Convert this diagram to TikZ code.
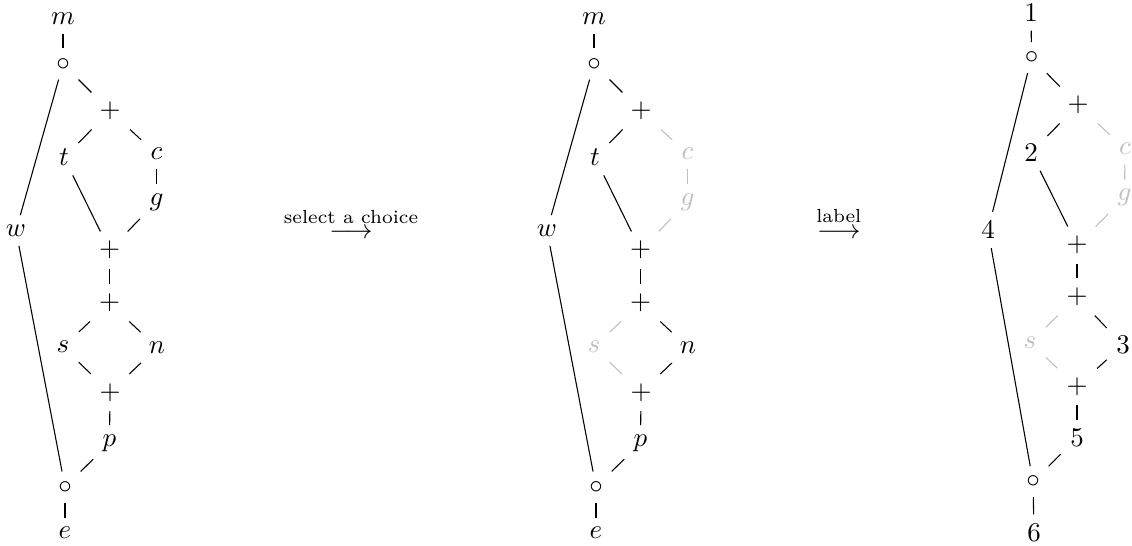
\documentclass[tikz,border=0pt]{standalone}
\usepackage{amsmath}
\begin{document}
\begin{tikzpicture}[x=0.37037pt,y=-0.37037pt,
  gr/.style={text=black!25},
  gl/.style={draw=black!25},
  ed/.style={draw=black, line width=0.4pt}]
\useasboundingbox (0,0) rectangle (1132,546);
% ---------- diagram 1 ----------
\node (am)  at (63,19)      {$m$};
\node (ao1) at (63,64)      {$\circ$};
\node (ap1) at (110,111)    {$+$};
\node (at)  at (64,157.5)   {$t$};
\node (ac)  at (156.5,154)  {$c$};
\node (ag)  at (156.5,202)  {$g$};
\node (aw)  at (16,230.5)   {$w$};
\node (ap2) at (109.5,250)  {$+$};
\node (ap3) at (109.5,303)  {$+$};
\node (as)  at (63,347)     {$s$};
\node (an)  at (157,347.5)  {$n$};
\node (ap4) at (110,392.5)  {$+$};
\node (ap)  at (109.5,443)  {$p$};
\node (ao2) at (65,487)     {$\circ$};
\node (ae)  at (65,533)     {$e$};
\draw[ed] (am) -- (ao1);
\draw[ed] (ao1) -- (ap1);
\draw[ed] (ao1) -- (aw);
\draw[ed] (ap1) -- (at);
\draw[ed] (ap1) -- (ac);
\draw[ed] (ac) -- (ag);
\draw[ed] (at) -- (ap2);
\draw[ed] (ag) -- (ap2);
\draw[ed] (ap2) -- (ap3);
\draw[ed] (ap3) -- (as);
\draw[ed] (ap3) -- (an);
\draw[ed] (as) -- (ap4);
\draw[ed] (an) -- (ap4);
\draw[ed] (ap4) -- (ap);
\draw[ed] (ap) -- (ao2);
\draw[ed] (aw) -- (ao2);
\draw[ed] (ao2) -- (ae);
% ---------- arrow 1 ----------
\node[anchor=base] (arr1) at (351,238.5) {$\stackrel{\text{select a choice}}{\longrightarrow}$};
% ---------- diagram 2 ----------
\node (bm)  at (594,19)      {$m$};
\node (bo1) at (594,64)      {$\circ$};
\node (bp1) at (641,111)     {$+$};
\node (bt)  at (595,157.5)   {$t$};
\node[gr] (bc)  at (687.5,154)  {$c$};
\node[gr] (bg)  at (687.5,202)  {$g$};
\node (bw)  at (547,230.5)   {$w$};
\node (bp2) at (640.5,250)   {$+$};
\node (bp3) at (640.5,303)   {$+$};
\node[gr] (bs)  at (594,347)    {$s$};
\node (bn)  at (688,347.5)   {$n$};
\node (bp4) at (641,392.5)   {$+$};
\node (bp)  at (640.5,443)   {$p$};
\node (bo2) at (596,487)     {$\circ$};
\node (be)  at (596,533)     {$e$};
\draw[ed] (bm) -- (bo1);
\draw[ed] (bo1) -- (bp1);
\draw[ed] (bo1) -- (bw);
\draw[ed] (bp1) -- (bt);
\draw[gl] (bp1) -- (bc);
\draw[gl] (bc) -- (bg);
\draw[ed] (bt) -- (bp2);
\draw[gl] (bg) -- (bp2);
\draw[ed] (bp2) -- (bp3);
\draw[gl] (bp3) -- (bs);
\draw[ed] (bp3) -- (bn);
\draw[gl] (bs) -- (bp4);
\draw[ed] (bn) -- (bp4);
\draw[ed] (bp4) -- (bp);
\draw[ed] (bp) -- (bo2);
\draw[ed] (bw) -- (bo2);
\draw[ed] (bo2) -- (be);
% ---------- arrow 2 ----------
\node[anchor=base] (arr2) at (838.8,238) {$\stackrel{\text{label}}{\longrightarrow}$};
% ---------- diagram 3 ----------
\node (c1)  at (1031,12.5)    {$1$};
\node (co1) at (1031.5,57.7)  {$\circ$};
\node (cp1) at (1078,105)     {$+$};
\node (c2)  at (1031,152.5)   {$2$};
\node[gr] (cc)  at (1125,149)   {$c$};
\node[gr] (cg)  at (1124.5,197.5) {$g$};
\node (c4)  at (988,230)      {$4$};
\node (cp2) at (1077,245)     {$+$};
\node (cp3) at (1077,297)     {$+$};
\node[gr] (cs)  at (1030,342.5) {$s$};
\node (c3)  at (1123,345)     {$3$};
\node (cp4) at (1077,386.7)   {$+$};
\node (c5)  at (1077,438)     {$5$};
\node (co2) at (1033,481.7)   {$\circ$};
\node (c6)  at (1034,532.5)   {$6$};
\draw[ed] (c1) -- (co1);
\draw[ed] (co1) -- (cp1);
\draw[ed] (co1) -- (c4);
\draw[ed] (cp1) -- (c2);
\draw[gl] (cp1) -- (cc);
\draw[gl] (cc) -- (cg);
\draw[ed] (c2) -- (cp2);
\draw[gl] (cg) -- (cp2);
\draw[ed] (cp2) -- (cp3);
\draw[gl] (cp3) -- (cs);
\draw[ed] (cp3) -- (c3);
\draw[gl] (cs) -- (cp4);
\draw[ed] (c3) -- (cp4);
\draw[ed] (cp4) -- (c5);
\draw[ed] (c5) -- (co2);
\draw[ed] (c4) -- (co2);
\draw[ed] (co2) -- (c6);
\end{tikzpicture}
\end{document}
